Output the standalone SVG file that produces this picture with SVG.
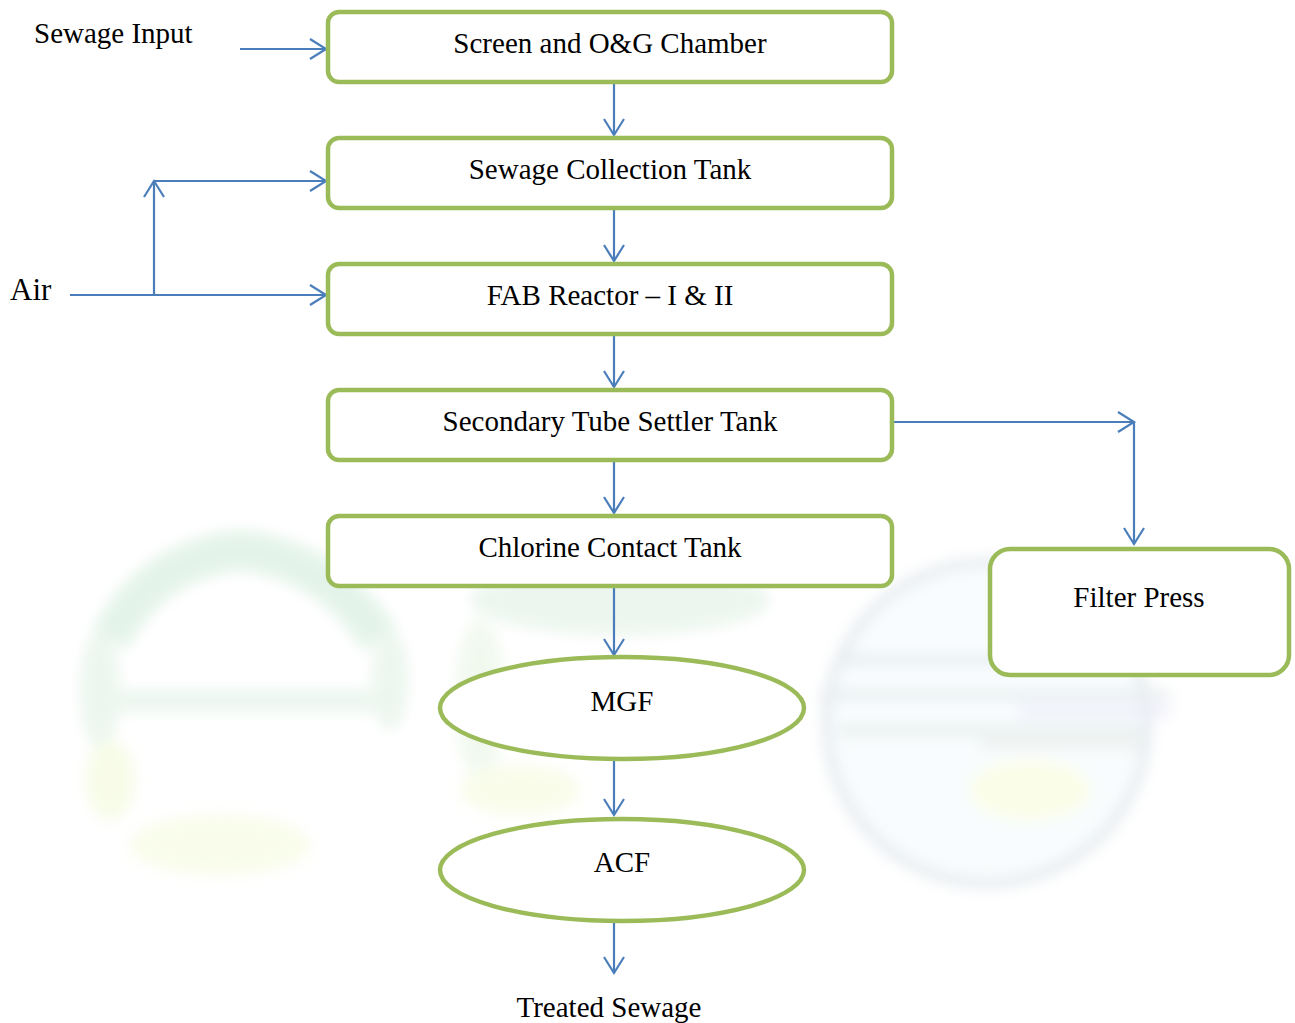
<svg xmlns="http://www.w3.org/2000/svg" width="1295" height="1023" viewBox="0 0 1295 1023">
  <style>
    .box { fill: #ffffff; stroke: #9BBB59; stroke-width: 4.5; }
    .lbl { font-family: "Liberation Serif", "Times New Roman", serif; font-size: 29px; fill: #000000; text-anchor: middle; }
    .free { font-family: "Liberation Serif", "Times New Roman", serif; font-size: 29px; fill: #000000; }
    .conn { stroke: #4A7EBB; stroke-width: 2.2; fill: none; }
  </style>
  <defs>
    <marker id="arr" viewBox="0 0 16 20" refX="16" refY="10" markerWidth="16" markerHeight="20" markerUnits="userSpaceOnUse" orient="auto" overflow="visible">
      <path d="M0,0 L16,10 L0,20" fill="none" stroke="#4A7EBB" stroke-width="2.2"/>
    </marker>
    <filter id="blur" x="-20%" y="-20%" width="140%" height="140%">
      <feGaussianBlur stdDeviation="7"/>
    </filter>
  </defs>
  <rect width="1295" height="1023" fill="#ffffff"/>

  <g id="watermark" filter="url(#blur)" opacity="0.45">
    <path d="M110,640 Q150,560 240,550 Q330,560 380,640" fill="none" stroke="#c4e6d0" stroke-width="40"/>
    <rect x="90" y="690" width="300" height="22" fill="#d4ecdc"/>
    <ellipse cx="100" cy="690" rx="20" ry="60" fill="#d6ecdc"/>
    <ellipse cx="390" cy="680" rx="18" ry="50" fill="#d6ecdc"/>
    <ellipse cx="220" cy="845" rx="90" ry="30" fill="#f2fad2"/>
    <ellipse cx="110" cy="780" rx="25" ry="40" fill="#eef8cc"/>
    <ellipse cx="620" cy="600" rx="150" ry="35" fill="#d6ecdc"/>
    <ellipse cx="480" cy="700" rx="25" ry="80" fill="#e2f2dc"/>
    <ellipse cx="520" cy="790" rx="60" ry="25" fill="#f2f9d0"/>
    <circle cx="987" cy="723" r="160" fill="#f2fafd" stroke="#c6d2da" stroke-width="10"/>
    <rect x="840" y="655" width="300" height="10" fill="#c8d6de"/>
    <rect x="820" y="690" width="350" height="10" fill="#ccd8dc"/>
    <rect x="1020" y="706" width="150" height="10" fill="#d8d8f2"/>
    <rect x="840" y="725" width="300" height="10" fill="#c8d6d6"/>
    <rect x="980" y="740" width="160" height="8" fill="#d0d8d0"/>
    <ellipse cx="1030" cy="790" rx="60" ry="30" fill="#f6fccc"/>
  </g>

  <g id="connectors">
    <line class="conn" x1="240" y1="49" x2="326" y2="49" marker-end="url(#arr)"/>
    <line class="conn" x1="614" y1="83" x2="614" y2="135" marker-end="url(#arr)"/>
    <line class="conn" x1="614" y1="209" x2="614" y2="261" marker-end="url(#arr)"/>
    <line class="conn" x1="614" y1="335" x2="614" y2="387" marker-end="url(#arr)"/>
    <line class="conn" x1="614" y1="461" x2="614" y2="513" marker-end="url(#arr)"/>
    <line class="conn" x1="614" y1="587" x2="614" y2="655" marker-end="url(#arr)"/>
    <line class="conn" x1="614" y1="761" x2="614" y2="815" marker-end="url(#arr)"/>
    <line class="conn" x1="614" y1="923" x2="614" y2="973" marker-end="url(#arr)"/>
    <line class="conn" x1="70" y1="295" x2="326" y2="295" marker-end="url(#arr)"/>
    <line class="conn" x1="154" y1="295" x2="154" y2="181" marker-end="url(#arr)"/>
    <line class="conn" x1="154" y1="181" x2="326" y2="181" marker-end="url(#arr)"/>
    <line class="conn" x1="892" y1="422" x2="1134" y2="422" marker-end="url(#arr)"/>
    <line class="conn" x1="1134" y1="422" x2="1134" y2="544" marker-end="url(#arr)"/>
  </g>

  <g id="label-sewage-input"><text class="free" x="34" y="43">Sewage Input</text></g>
  <g id="label-air"><text class="free" x="10" y="300" style="font-size:31px">Air</text></g>

  <g id="node-screen">
    <rect class="box" x="328" y="12" width="564" height="70" rx="11"/>
    <text class="lbl" x="610" y="53">Screen and O&amp;G Chamber</text>
  </g>
  <g id="node-collection">
    <rect class="box" x="328" y="138" width="564" height="70" rx="11"/>
    <text class="lbl" x="610" y="179">Sewage Collection Tank</text>
  </g>
  <g id="node-fab">
    <rect class="box" x="328" y="264" width="564" height="70" rx="11"/>
    <text class="lbl" x="610" y="305">FAB Reactor – I &amp; II</text>
  </g>
  <g id="node-settler">
    <rect class="box" x="328" y="390" width="564" height="70" rx="11"/>
    <text class="lbl" x="610" y="431">Secondary Tube Settler Tank</text>
  </g>
  <g id="node-chlorine">
    <rect class="box" x="328" y="516" width="564" height="70" rx="11"/>
    <text class="lbl" x="610" y="557">Chlorine Contact Tank</text>
  </g>
  <g id="node-filter-press">
    <rect class="box" x="990" y="549" width="299" height="126" rx="20"/>
    <text class="lbl" x="1139" y="607">Filter Press</text>
  </g>
  <g id="node-mgf">
    <ellipse class="box" cx="622" cy="708" rx="182" ry="51"/>
    <text class="lbl" x="622" y="711">MGF</text>
  </g>
  <g id="node-acf">
    <ellipse class="box" cx="622" cy="870" rx="182" ry="51"/>
    <text class="lbl" x="622" y="872">ACF</text>
  </g>
  <g id="label-treated"><text class="lbl" x="609" y="1017">Treated Sewage</text></g>
</svg>
